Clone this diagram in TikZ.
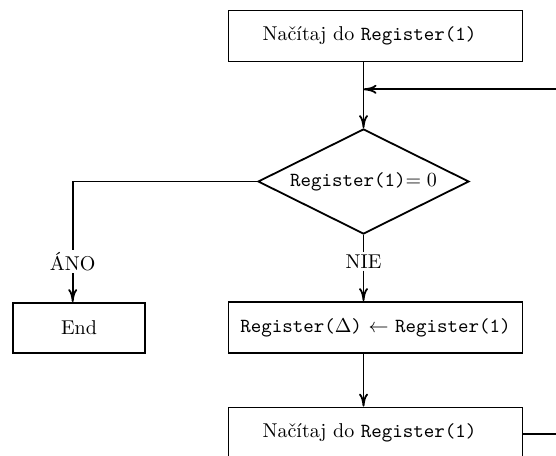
\documentclass[tikz,border=0pt]{standalone}
\usetikzlibrary{shapes.geometric,arrows.meta}
\begin{document}
\begin{tikzpicture}[x=0.5pt,y=-0.5pt,
  box/.style={draw,line width=0.9pt,minimum width=147pt,minimum height=25.5pt,inner sep=0pt},
  dec/.style={draw,diamond,line width=0.9pt,minimum width=105.5pt,minimum height=52.5pt,inner sep=0pt,aspect=2},
  lbl/.style={inner sep=1pt},
  conn/.style={line width=0.9pt},
  arr/.style={conn,-{To[length=6.5pt,width=4.5pt]}}]
\useasboundingbox (0,0) rectangle (556,455);
\clip (0,0) rectangle (556,455);
\node[box] (load1) at (375.5,36) {Načítaj do \texttt{Register(1)}\hspace*{6pt}};
\node[dec] (test) at (363.5,181.5) {\texttt{Register(1)}$=0$};
\node[lbl] (ano) at (72.7,261.5) {ÁNO};
\node[lbl] (nie) at (363.5,261.5) {NIE};
\node[box,minimum width=66pt,minimum height=25pt] (end) at (79,328) {End};
\node[box] (assign) at (375.5,327.5) {\texttt{Register($\Delta$)} $\leftarrow$ \texttt{Register(1)}};
\node[box] (load2) at (375.5,433) {Načítaj do \texttt{Register(1)}\hspace*{6pt}};
\coordinate (loopin) at (560,89.3);
\coordinate (loopout) at (560,434);
\draw[arr] (load1.south -| test.north) -- (test.north);
\draw[arr] (loopin) -- (loopin -| test.north);
\draw[conn] (test.west) -| (ano.north);
\draw[arr] (ano.south) -- (ano.south |- end.north);
\draw[conn] (test.south) -- (nie.north);
\draw[arr] (nie.south) -- (nie.south |- assign.north);
\draw[arr] (assign.south -| test.north) -- (load2.north -| test.north);
\draw[conn] (load2.east |- loopout) -- (loopout);
\end{tikzpicture}
\end{document}
